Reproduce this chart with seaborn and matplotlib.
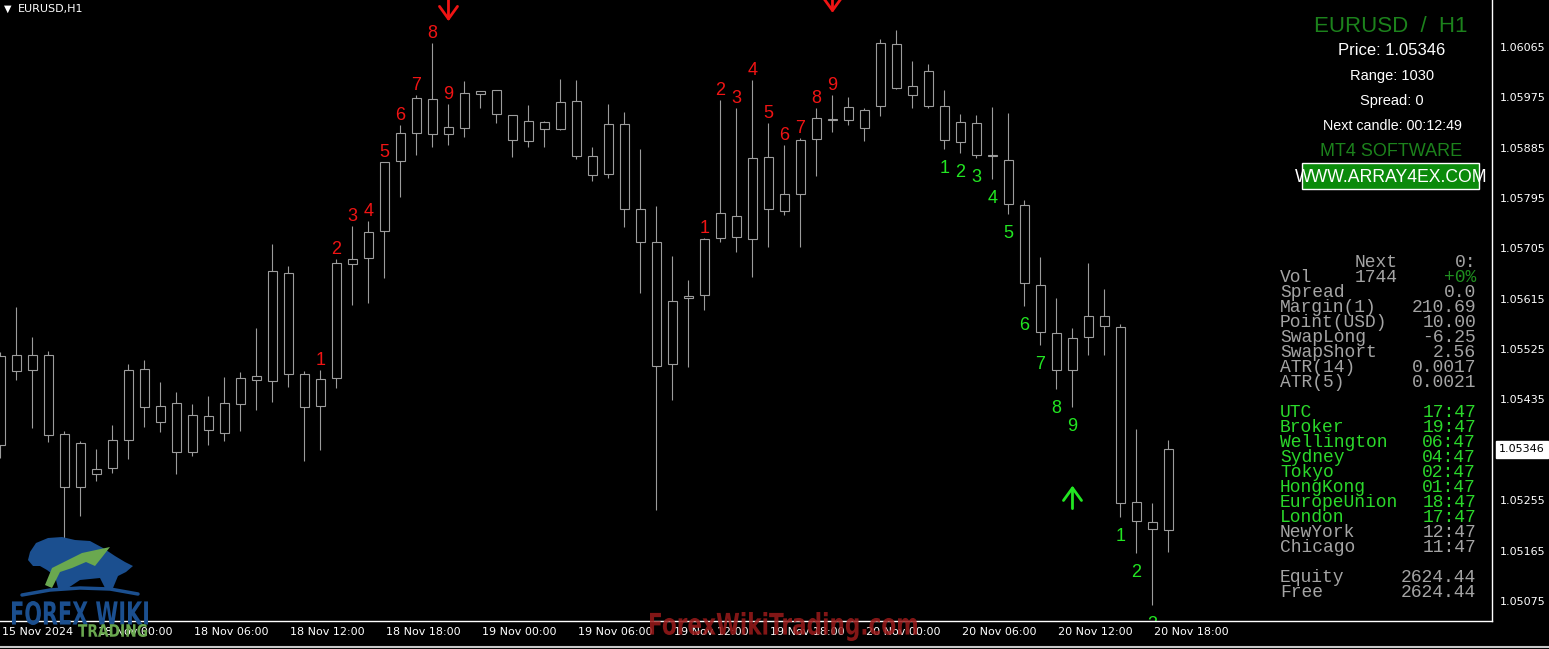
import numpy as np
import pandas as pd
import seaborn as sns
import matplotlib.pyplot as plt
from matplotlib.patches import Rectangle, PathPatch, Polygon
from matplotlib.textpath import TextPath
from matplotlib.font_manager import FontProperties
from matplotlib.transforms import Affine2D, ScaledTranslation
from matplotlib.lines import Line2D

W, H = 1549, 649

# --- EURUSD H1 candles (15 Nov 18:00 .. 20 Nov 19:00) ---
opens = [1.05354, 1.05515, 1.05488, 1.05515, 1.05373, 1.05279, 1.05302, 1.05313, 1.05363, 1.05490,
         1.05424, 1.05429, 1.05341, 1.05406, 1.05375, 1.05427, 1.05477, 1.05468, 1.05661, 1.05481,
         1.05424, 1.05473, 1.05677, 1.05688, 1.05736, 1.05861, 1.05911, 1.05972, 1.05910, 1.05920,
         1.05981, 1.05988, 1.05944, 1.05897, 1.05931, 1.05918, 1.05969, 1.05870, 1.05838, 1.05927,
         1.05776, 1.05717, 1.05499, 1.05617, 1.05622, 1.05724, 1.05763, 1.05722, 1.05868, 1.05772,
         1.05802, 1.05901, 1.05935, 1.05935, 1.05952, 1.05960, 1.06070, 1.05995, 1.06022, 1.05960,
         1.05895, 1.05929, 1.05872, 1.05863, 1.05783, 1.05640, 1.05554, 1.05488, 1.05547, 1.05584,
         1.05565, 1.05252, 1.05216, 1.05202]
highs = [1.05520, 1.05600, 1.05547, 1.05522, 1.05379, 1.05361, 1.05347, 1.05390, 1.05499, 1.05506,
         1.05466, 1.05449, 1.05427, 1.05441, 1.05475, 1.05484, 1.05563, 1.05713, 1.05674, 1.05486,
         1.05488, 1.05686, 1.05745, 1.05754, 1.05860, 1.05926, 1.05979, 1.06072, 1.05963, 1.06004,
         1.05986, 1.05988, 1.05944, 1.05961, 1.05933, 1.06008, 1.06006, 1.05886, 1.05963, 1.05949,
         1.05883, 1.05781, 1.05692, 1.05649, 1.05724, 1.05970, 1.05956, 1.06006, 1.05929, 1.05890,
         1.05902, 1.05956, 1.05979, 1.05976, 1.05956, 1.06079, 1.06095, 1.06040, 1.06035, 1.05988,
         1.05945, 1.05944, 1.05958, 1.05947, 1.05792, 1.05690, 1.05617, 1.05563, 1.05679, 1.05633,
         1.05570, 1.05382, 1.05250, 1.05363]
lows = [1.05331, 1.05470, 1.05384, 1.05359, 1.05184, 1.05227, 1.05290, 1.05304, 1.05329, 1.05386,
        1.05377, 1.05302, 1.05334, 1.05354, 1.05361, 1.05379, 1.05416, 1.05431, 1.05457, 1.05325,
        1.05345, 1.05456, 1.05604, 1.05608, 1.05652, 1.05797, 1.05872, 1.05886, 1.05890, 1.05904,
        1.05956, 1.05929, 1.05868, 1.05886, 1.05886, 1.05917, 1.05865, 1.05826, 1.05831, 1.05743,
        1.05625, 1.05238, 1.05434, 1.05493, 1.05595, 1.05717, 1.05699, 1.05654, 1.05708, 1.05765,
        1.05708, 1.05835, 1.05913, 1.05926, 1.05897, 1.05942, 1.05990, 1.05956, 1.05956, 1.05883,
        1.05876, 1.05867, 1.05829, 1.05767, 1.05602, 1.05533, 1.05454, 1.05422, 1.05515, 1.05515,
        1.05225, 1.05161, 1.05068, 1.05163]
closes = [1.05513, 1.05486, 1.05515, 1.05372, 1.05279, 1.05357, 1.05311, 1.05363, 1.05488, 1.05422,
          1.05395, 1.05341, 1.05407, 1.05381, 1.05429, 1.05473, 1.05470, 1.05665, 1.05481, 1.05422,
          1.05472, 1.05679, 1.05686, 1.05734, 1.05860, 1.05911, 1.05974, 1.05910, 1.05922, 1.05983,
          1.05986, 1.05945, 1.05899, 1.05933, 1.05918, 1.05967, 1.05870, 1.05836, 1.05927, 1.05776,
          1.05717, 1.05495, 1.05611, 1.05620, 1.05722, 1.05768, 1.05726, 1.05867, 1.05776, 1.05802,
          1.05899, 1.05938, 1.05936, 1.05958, 1.05920, 1.06072, 1.05992, 1.05979, 1.05960, 1.05899,
          1.05931, 1.05872, 1.05870, 1.05785, 1.05643, 1.05556, 1.05488, 1.05545, 1.05584, 1.05566,
          1.05250, 1.05218, 1.05204, 1.05346]
current_price = 1.05346

x_tick_pos = [0, 6, 12, 18, 24, 30, 36, 42, 48, 54, 60, 66, 72]
x_tick_labels = ["15 Nov 2024", "18 Nov 00:00", "18 Nov 06:00", "18 Nov 12:00", "18 Nov 18:00",
                 "19 Nov 00:00", "19 Nov 06:00", "19 Nov 12:00", "19 Nov 18:00", "20 Nov 00:00",
                 "20 Nov 06:00", "20 Nov 12:00", "20 Nov 18:00"]
price_ticks = [1.06065, 1.05975, 1.05885, 1.05795, 1.05705, 1.05615,
               1.05525, 1.05435, 1.05255, 1.05165, 1.05075]

# TD setup counts
sell_idx = [20, 21, 22, 23, 24, 25, 26, 27, 28, 44, 45, 46, 47, 48, 49, 50, 51, 52]
sell_num = [1, 2, 3, 4, 5, 6, 7, 8, 9, 1, 2, 3, 4, 5, 6, 7, 8, 9]
buy_idx = [59, 60, 61, 62, 63, 64, 65, 66, 67, 70, 71, 72]
buy_num = [1, 2, 3, 4, 5, 6, 7, 8, 9, 1, 2, 3]
down_arrow_idx = [28, 52]
down_arrow_price = [1.06111, 1.06126]
up_arrow_idx = [67]
up_arrow_price = [1.05281]

# info panel
header_lines = ["Price: 1.05346", "Range: 1030", "Spread: 0", "Next candle: 00:12:49"]
info_names = ["Spread", "Margin(1)", "Point(USD)", "SwapLong", "SwapShort", "ATR(14)", "ATR(5)"]
info_values = ["0.0", "210.69", "10.00", "-6.25", "2.56", "0.0017", "0.0021"]
zone_names = ["UTC", "Broker", "Wellington", "Sydney", "Tokyo", "HongKong",
              "EuropeUnion", "London", "NewYork", "Chicago"]
zone_times = ["17:47", "19:47", "06:47", "04:47", "02:47", "01:47", "18:47", "17:47", "12:47", "11:47"]
zone_open = [True, True, True, True, True, True, True, True, False, False]
account_names = ["Equity", "Free"]
account_values = ["2624.44", "2624.44"]

df = pd.DataFrame({"open": opens, "high": highs, "low": lows, "close": closes})
df["idx"] = np.arange(len(df))

# --- style ---
sns.set_theme(style="dark", rc={"axes.facecolor": "black", "figure.facecolor": "black"})
plt.rcParams["font.family"] = ["DejaVu Sans"]

RED = "#f01414"
LIME = "#22e622"
CANDLE = "#9c9c9c"
GREY = "#a4a4a4"

fig = plt.figure(figsize=(W / 100, H / 100), dpi=100, facecolor="black")
ax = fig.add_axes([0, 28 / H, 1492 / W, 621 / H])
ax.set_facecolor("black")

# --- candles ---
body_lo = df[["open", "close"]].min(axis=1)
body_hi = df[["open", "close"]].max(axis=1)
ax.vlines(df["idx"], df["low"], df["high"], color=CANDLE, lw=0.8, zorder=2)
ax.bar(df["idx"], (body_hi - body_lo).clip(lower=0.000004), bottom=body_lo, width=0.6,
       color="black", edgecolor=CANDLE, linewidth=0.8, zorder=3)

for i, n in zip(sell_idx, sell_num):
    t = ax.annotate(str(n), xy=(i, highs[i]), xytext=(0, 5), textcoords="offset pixels",
                    ha="center", va="baseline", color=RED, fontsize=13,
                    family="Liberation Sans", zorder=4)
    t.set_clip_path(ax.patch)
for i, n in zip(buy_idx, buy_num):
    t = ax.annotate(str(n), xy=(i, lows[i]), xytext=(0, -24), textcoords="offset pixels",
                    ha="center", va="baseline", color=LIME, fontsize=13,
                    family="Liberation Sans", zorder=4)
    t.set_clip_path(ax.patch)

arrow_style = "->,head_length=0.9,head_width=0.65"
for i, p in zip(down_arrow_idx, down_arrow_price):
    ax.annotate("", xy=(i, p), xytext=(0, 23), textcoords="offset pixels",
                arrowprops=dict(arrowstyle=arrow_style, color=RED, lw=2,
                                shrinkA=0, shrinkB=0, mutation_scale=10),
                annotation_clip=False)
for i, p in zip(up_arrow_idx, up_arrow_price):
    ax.annotate("", xy=(i, p), xytext=(0, -23), textcoords="offset pixels",
                arrowprops=dict(arrowstyle=arrow_style, color=LIME, lw=2,
                                shrinkA=0, shrinkB=0, mutation_scale=10),
                annotation_clip=False)

# --- axes ---
ax.set_xlim(-0.03, 93.22)
ax.set_ylim(1.05039, 1.06149)
ax.grid(False)
ax.yaxis.tick_right()
ax.set_yticks(price_ticks)
ax.set_yticklabels([f"{p:.5f}" for p in price_ticks])
ax.set_xticks(x_tick_pos)
ax.set_xticklabels(x_tick_labels)
ax.tick_params(axis="y", colors="white", length=3, width=0.8, pad=2.5, labelsize=8)
ax.tick_params(axis="x", colors="white", length=3, width=0.8, pad=1.5, labelsize=8)
for lab in ax.get_xticklabels():
    lab.set_ha("left")
    lab.set_transform(lab.get_transform() + ScaledTranslation(2 / 100, 0, fig.dpi_scale_trans))
sns.despine(ax=ax, left=True, top=True, right=False, bottom=False)
for side in ["right", "bottom"]:
    ax.spines[side].set_color("white")
    ax.spines[side].set_linewidth(1)
    ax.spines[side].set_zorder(5)

ax.annotate(f"{current_price:.5f}", xy=(1, current_price), xycoords=("axes fraction", "data"),
            xytext=(7, 0), textcoords="offset pixels", ha="left", va="center",
            fontsize=8, color="black", annotation_clip=False,
            bbox=dict(boxstyle="square,pad=0.3", fc="white", ec="white"))


# --- overlay helpers (figure pixel coords, y down) ---
def ftext(x, y, s, **kw):
    fig.text(x / W, 1 - y / H, s, **kw)


def fpoly(points, color, alpha=1.0):
    pts = [(x / W, 1 - y / H) for x, y in points]
    fig.add_artist(Polygon(pts, closed=True, transform=fig.transFigure,
                           fc=color, ec="none", alpha=alpha))


def path_text(s, box, color, alpha=1.0, family="DejaVu Sans"):
    tp = TextPath((0, 0), s, size=100, prop=FontProperties(family=family, weight="bold"))
    ext = tp.get_extents()
    x0, y0, x1, y1 = box
    tr = (Affine2D().translate(-ext.x0, -ext.y0)
          .scale((x1 - x0) / ext.width, (y1 - y0) / ext.height)
          .translate(x0, H - y1).scale(1 / W, 1 / H))
    fig.add_artist(PathPatch(tr.transform_path(tp), fc=color, ec="none", alpha=alpha,
                             transform=fig.transFigure))


ftext(4, 9, "\u25bc", color="white", fontsize=7, va="center")
ftext(18, 9, "EURUSD,H1", color="white", fontsize=8, va="center")

# top right panel
SANS = "Liberation Sans"
ftext(1391, 32, "EURUSD  /  H1", color="#1c821c", fontsize=16, ha="center", va="baseline", family=SANS)
header_base = [55, 80, 105, 130]
header_size = [12, 10.5, 10.5, 10.3]
for s, yb, fs in zip(header_lines, header_base, header_size):
    ftext(1392, yb, s, color="white", fontsize=fs, ha="center", va="baseline", family=SANS)
ftext(1391, 156, "MT4 SOFTWARE", color="#1c821c", fontsize=13, ha="center", va="baseline", family=SANS)
fig.add_artist(Rectangle((1302 / W, 1 - 189 / H), 177 / W, 26 / H, transform=fig.transFigure,
                         fc="#0b8a0b", ec="white", lw=1))
ftext(1391, 182, "WWW.ARRAY4EX.COM", color="white", fontsize=12.7, ha="center", va="baseline", family=SANS)

# monospace stats
MONO = dict(family="Liberation Mono", fontsize=13, va="baseline")
ftext(1398, 267, "Next", color=GREY, ha="right", **MONO)
ftext(1476, 267, "0:", color=GREY, ha="right", **MONO)
ftext(1280, 282, "Vol", color=GREY, ha="left", **MONO)
ftext(1398, 282, "1744", color=GREY, ha="right", **MONO)
ftext(1476, 282, "+0%", color="#1f8f1f", ha="right", **MONO)
for k, (nm, val) in enumerate(zip(info_names, info_values)):
    yb = 297 + 15 * k
    ftext(1280, yb, nm, color=GREY, ha="left", **MONO)
    ftext(1476, yb, val, color=GREY, ha="right", **MONO)
for k, (nm, tm, op) in enumerate(zip(zone_names, zone_times, zone_open)):
    yb = 417 + 15 * k
    col = "#2bd82b" if op else GREY
    ftext(1280, yb, nm, color=col, ha="left", **MONO)
    ftext(1476, yb, tm, color=col, ha="right", **MONO)
for k, (nm, val) in enumerate(zip(account_names, account_values)):
    yb = 582 + 15 * k
    ftext(1280, yb, nm, color=GREY, ha="left", **MONO)
    ftext(1476, yb, val, color=GREY, ha="right", **MONO)

# watermark
path_text("ForexWikiTrading.com", (650, 612, 917, 641), "#9a1a1a", alpha=0.85)

# logo
BLUE = "#1b4f8f"
fpoly([(30, 552), (36, 543), (48, 538), (62, 537), (75, 540), (90, 541), (103, 548), (115, 556),
       (125, 562), (133, 566), (126, 572), (118, 576), (113, 588), (105, 588), (100, 578),
       (80, 580), (68, 588), (58, 588), (55, 576), (47, 570), (40, 566), (33, 566), (28, 560)], BLUE)
fpoly([(45, 585), (52, 568), (68, 560), (82, 553), (96, 550), (110, 547), (103, 556), (95, 566),
       (86, 562), (72, 568), (60, 572), (52, 588)], "#6aa84f")
arc_x = np.array([22, 50, 80, 110, 138])
arc_y = np.array([595, 590, 588, 589, 594])
fig.add_artist(Line2D(arc_x / W, 1 - arc_y / H, transform=fig.transFigure, color=BLUE, lw=2.5))
path_text("FOREX WIKI", (12, 601, 148, 625), BLUE)
path_text("TRADING", (78, 624, 147, 637), "#6aa84f")

# bottom tab strip line
fig.add_artist(Line2D([0, 1], [1 - 646.5 / H] * 2, transform=fig.transFigure, color="#c8c8c8", lw=1.5))

fig.savefig("out.png", dpi=100, facecolor="black")
